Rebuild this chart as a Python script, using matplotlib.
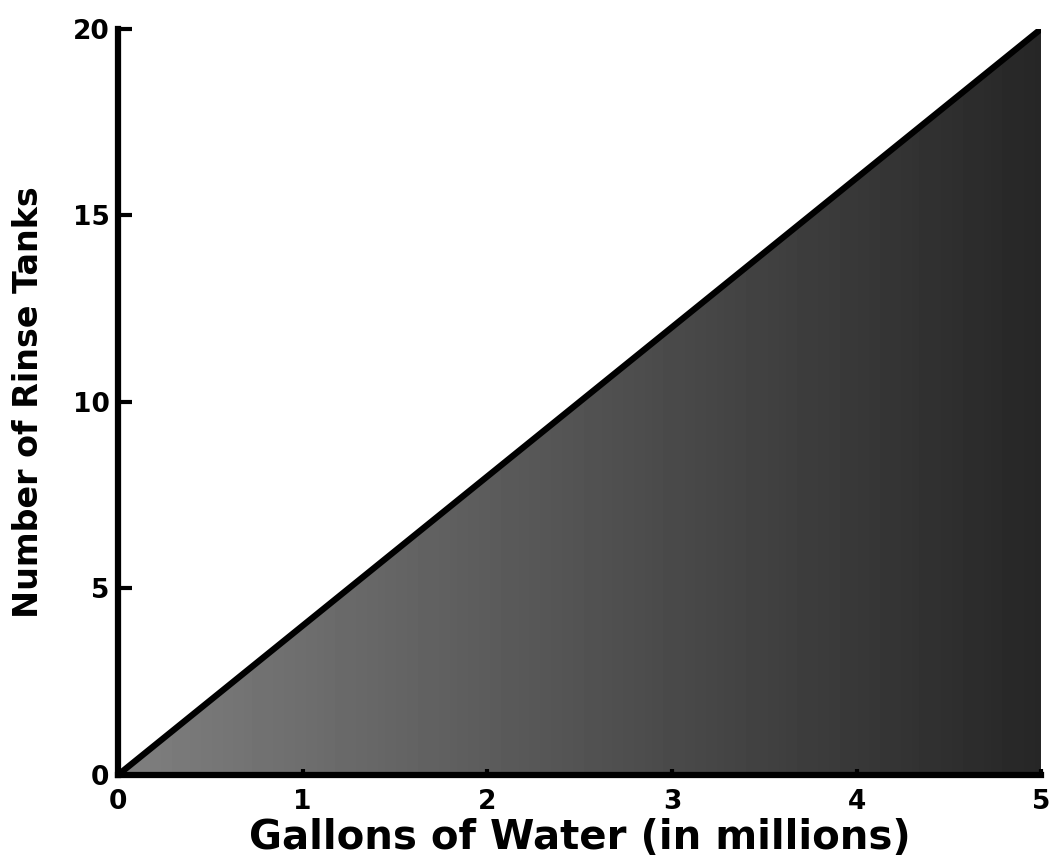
import matplotlib.pyplot as plt
import numpy as np
from matplotlib.patches import Polygon

# data
gallons = [0, 5]          # millions
tanks = [0, 20]
xticks = [0, 1, 2, 3, 4, 5]
yticks = [0, 5, 10, 15, 20]

plt.rcParams['font.family'] = ['DejaVu Sans']

fig = plt.figure(figsize=(10.52, 8.66), dpi=100)
ax = fig.add_axes([0.112, 0.105, 0.878, 0.862])

# shaded triangle under the line, lighter to the left, darker to the right
tri = Polygon([(gallons[0], tanks[0]), (gallons[1], tanks[1]), (gallons[1], tanks[0])],
              closed=True, facecolor='none', edgecolor='none')
ax.add_patch(tri)
grad = np.linspace(0.5, 0.15, 256).reshape(1, -1)
im = ax.imshow(grad, cmap='gray', vmin=0, vmax=1, aspect='auto',
               extent=[gallons[0], gallons[1], tanks[0], tanks[1]], zorder=1)
im.set_clip_path(tri)

ax.plot(gallons, tanks, color='black', lw=4.5, solid_capstyle='round', zorder=3)

ax.set_xlim(0, 5)
ax.set_ylim(0, 20)
ax.set_xticks(xticks)
ax.set_yticks(yticks)
ax.spines['top'].set_visible(False)
ax.spines['right'].set_visible(False)
for s in ['left', 'bottom']:
    ax.spines[s].set_linewidth(4.5)
ax.tick_params(direction='in', length=10, width=3, labelsize=19)
ax.tick_params(axis='y', pad=6)
ax.tick_params(axis='x', pad=10, length=4)
for lab in ax.get_xticklabels() + ax.get_yticklabels():
    lab.set_fontweight('heavy')

ax.set_xlabel('Gallons of Water (in millions)', fontsize=29, fontweight='heavy', labelpad=2)
ax.set_ylabel('Number of Rinse Tanks', fontsize=24, fontweight='heavy', labelpad=20)

fig.savefig('out.png', dpi=100)
